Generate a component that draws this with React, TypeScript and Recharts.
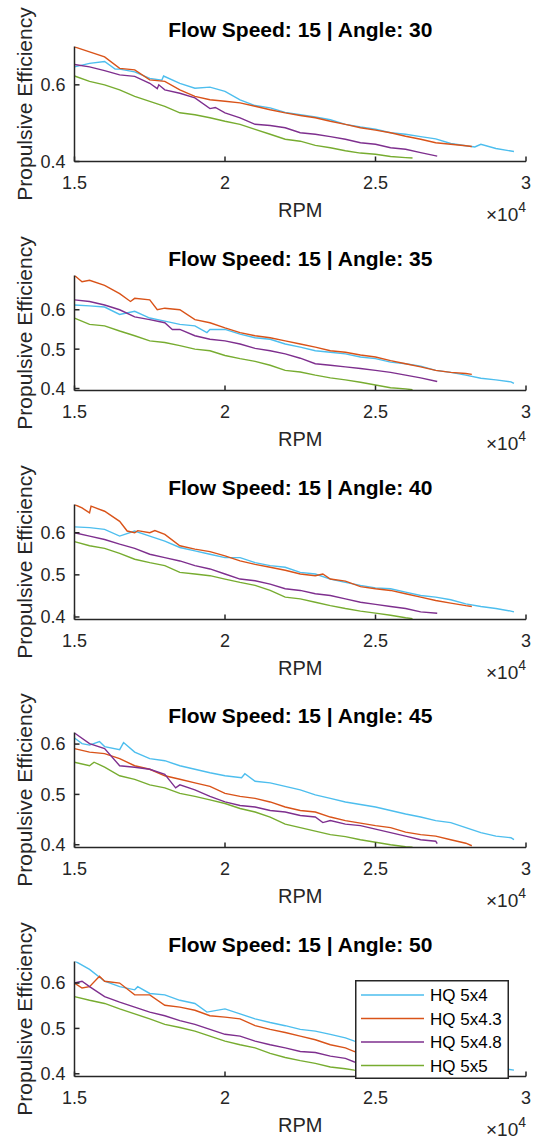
import React from 'react';
import { LineChart, Line, XAxis, YAxis, Legend } from 'recharts';

const FONT = '"Liberation Sans", Arial, Helvetica, sans-serif';
const AXIS_COLOR = '#262626';

// ---------- categories / ticks ----------
const angles = [30, 35, 40, 45, 50];
const seriesNames = ['HQ 5x4', 'HQ 5x4.3', 'HQ 5x4.8', 'HQ 5x5'];
const seriesColors = ['#4DBEEE', '#D95319', '#7E2F8E', '#77AC30'];
const xDomain = [15000, 30000];
const xTicks = [15000, 20000, 25000, 30000];
const yDomains = [
  [0.4, 0.7],
  [0.395, 0.687],
  [0.394, 0.667],
  [0.3945, 0.623],
  [0.394, 0.6475],
];
const yTicks = [
  [0.4, 0.6],
  [0.4, 0.5, 0.6],
  [0.4, 0.5, 0.6],
  [0.4, 0.5, 0.6],
  [0.4, 0.5, 0.6],
];

// ---------- series values: [RPM, propulsive efficiency] ----------
// Angle 30
const a30_5x4 = [[15000,0.647],[15500,0.656],[16000,0.661],[16350,0.641],[16500,0.641],[17000,0.634],[17500,0.617],[17900,0.612],[17960,0.623],[18500,0.604],[19000,0.591],[19500,0.594],[20000,0.583],[20500,0.561],[21000,0.546],[21500,0.540],[22000,0.528],[22500,0.522],[23000,0.516],[23500,0.509],[24000,0.497],[24500,0.490],[25000,0.484],[25500,0.475],[26000,0.471],[26500,0.465],[27000,0.459],[27500,0.447],[28000,0.441],[28300,0.438],[28500,0.445],[29000,0.434],[29600,0.426]];
const a30_5x43 = [[15000,0.699],[15500,0.686],[16000,0.673],[16500,0.643],[17000,0.639],[17500,0.613],[18000,0.609],[18500,0.587],[19000,0.570],[19500,0.561],[20000,0.557],[20500,0.553],[21000,0.544],[21500,0.535],[22000,0.527],[22500,0.520],[23000,0.514],[23500,0.505],[24000,0.497],[24500,0.488],[25000,0.482],[25500,0.475],[26000,0.466],[26500,0.458],[27000,0.449],[27500,0.445],[28000,0.441],[28200,0.439]];
const a30_5x48 = [[15000,0.653],[15500,0.647],[16000,0.637],[16500,0.626],[17000,0.622],[17500,0.604],[17750,0.590],[17800,0.600],[18000,0.587],[18500,0.578],[19000,0.566],[19500,0.538],[19680,0.541],[20000,0.527],[20500,0.514],[21000,0.497],[21500,0.494],[22000,0.488],[22500,0.475],[23000,0.471],[23500,0.465],[24000,0.458],[24500,0.449],[25000,0.445],[25500,0.436],[26000,0.432],[26500,0.423],[27050,0.414]];
const a30_5x5 = [[15000,0.623],[15500,0.609],[16000,0.600],[16500,0.587],[17000,0.570],[17500,0.557],[18000,0.544],[18500,0.527],[19000,0.522],[19500,0.514],[20000,0.505],[20500,0.497],[21000,0.484],[21500,0.471],[22000,0.458],[22500,0.453],[23000,0.442],[23500,0.436],[24000,0.428],[24500,0.422],[25000,0.419],[25500,0.413],[26000,0.410],[26230,0.409]];

// Angle 35
const a35_5x4 = [[15000,0.612],[15500,0.610],[16000,0.607],[16500,0.588],[17000,0.596],[17500,0.579],[18000,0.571],[18500,0.563],[19000,0.559],[19400,0.542],[19500,0.550],[20000,0.550],[20500,0.538],[21000,0.529],[21500,0.525],[22000,0.513],[22500,0.505],[23000,0.496],[23500,0.492],[24000,0.488],[24500,0.480],[25000,0.476],[25500,0.467],[26000,0.463],[26500,0.457],[27000,0.446],[27500,0.441],[28000,0.434],[28500,0.426],[29000,0.422],[29500,0.417],[29600,0.413]];
const a35_5x43 = [[15000,0.687],[15250,0.671],[15500,0.675],[16000,0.662],[16500,0.641],[16860,0.621],[17000,0.629],[17500,0.625],[17750,0.600],[18000,0.604],[18500,0.600],[19000,0.575],[19500,0.567],[20000,0.554],[20500,0.542],[21000,0.534],[21500,0.529],[22000,0.521],[22500,0.513],[23000,0.505],[23500,0.496],[24000,0.492],[24500,0.485],[25000,0.480],[25500,0.471],[26000,0.463],[26500,0.455],[27000,0.446],[27500,0.441],[28000,0.438],[28200,0.436]];
const a35_5x48 = [[15000,0.625],[15500,0.621],[16000,0.612],[16500,0.600],[17000,0.582],[17500,0.575],[18000,0.567],[18250,0.550],[18500,0.550],[19000,0.534],[19500,0.525],[20000,0.521],[20500,0.513],[21000,0.502],[21500,0.496],[22000,0.488],[22500,0.477],[23000,0.463],[23500,0.459],[24000,0.455],[24500,0.451],[25000,0.446],[25500,0.441],[26000,0.434],[26500,0.427],[27050,0.418]];
const a35_5x5 = [[15000,0.579],[15500,0.563],[16000,0.559],[16500,0.546],[17000,0.534],[17500,0.521],[18000,0.517],[18500,0.509],[19000,0.500],[19500,0.496],[20000,0.484],[20500,0.476],[21000,0.469],[21500,0.459],[22000,0.446],[22500,0.442],[23000,0.434],[23500,0.427],[24000,0.422],[24500,0.416],[25000,0.409],[25500,0.402],[26000,0.399],[26230,0.397]];

// Angle 40
const a40_5x4 = [[15000,0.614],[15500,0.612],[16000,0.608],[16500,0.592],[17000,0.604],[17500,0.592],[18000,0.580],[18500,0.565],[19000,0.557],[19500,0.549],[20000,0.541],[20500,0.541],[21000,0.529],[21500,0.522],[22000,0.518],[22500,0.506],[23000,0.502],[23500,0.490],[24000,0.482],[24500,0.475],[25000,0.469],[25500,0.467],[26000,0.459],[26500,0.451],[27000,0.447],[27500,0.441],[28000,0.431],[28500,0.425],[29000,0.420],[29500,0.414],[29600,0.412]];
const a40_5x43 = [[15000,0.667],[15250,0.659],[15500,0.647],[15550,0.663],[16000,0.651],[16500,0.627],[16750,0.604],[17000,0.600],[17100,0.605],[17500,0.600],[17670,0.605],[18000,0.596],[18500,0.569],[19000,0.561],[19500,0.555],[20000,0.545],[20500,0.533],[21000,0.525],[21500,0.518],[22000,0.511],[22500,0.502],[23000,0.498],[23250,0.502],[23500,0.490],[24000,0.485],[24500,0.472],[25000,0.467],[25500,0.463],[26000,0.455],[26500,0.447],[27000,0.439],[27500,0.433],[28000,0.427],[28200,0.425]];
const a40_5x48 = [[15000,0.600],[15500,0.592],[16000,0.584],[16500,0.573],[17000,0.563],[17500,0.549],[18000,0.541],[18500,0.533],[19000,0.522],[19500,0.514],[20000,0.502],[20500,0.490],[21000,0.486],[21500,0.478],[22000,0.467],[22500,0.463],[23000,0.455],[23500,0.451],[24000,0.443],[24500,0.435],[25000,0.430],[25500,0.425],[26000,0.420],[26500,0.412],[27050,0.409]];
const a40_5x5 = [[15000,0.579],[15500,0.569],[16000,0.563],[16500,0.551],[17000,0.537],[17500,0.529],[18000,0.522],[18500,0.506],[19000,0.502],[19500,0.498],[20000,0.490],[20500,0.482],[21000,0.475],[21500,0.463],[22000,0.447],[22500,0.443],[23000,0.435],[23500,0.427],[24000,0.420],[24500,0.414],[25000,0.409],[25500,0.404],[26000,0.398],[26230,0.396]];

// Angle 45
const a45_5x4 = [[15000,0.612],[15250,0.601],[15500,0.598],[15830,0.605],[16000,0.595],[16500,0.589],[16630,0.603],[17000,0.584],[17500,0.571],[18000,0.567],[18500,0.557],[19000,0.550],[19500,0.543],[20000,0.537],[20550,0.533],[20660,0.541],[21000,0.526],[21500,0.523],[22000,0.516],[22500,0.509],[23000,0.499],[23500,0.492],[24000,0.485],[24500,0.480],[25000,0.475],[25500,0.468],[26000,0.461],[26500,0.455],[27000,0.448],[27500,0.444],[28000,0.434],[28500,0.424],[29000,0.417],[29500,0.414],[29600,0.410]];
const a45_5x43 = [[15000,0.591],[15500,0.584],[16000,0.581],[16500,0.571],[17000,0.557],[17500,0.550],[18000,0.537],[18500,0.530],[19000,0.523],[19500,0.516],[20000,0.502],[20500,0.496],[21000,0.492],[21500,0.485],[22000,0.475],[22500,0.468],[23000,0.465],[23500,0.455],[24000,0.448],[24500,0.443],[25000,0.438],[25500,0.434],[26000,0.425],[26500,0.420],[27000,0.417],[27500,0.410],[28000,0.403],[28200,0.398]];
const a45_5x48 = [[15000,0.622],[15500,0.601],[16000,0.591],[16500,0.557],[17000,0.554],[17500,0.550],[18000,0.540],[18360,0.513],[18500,0.519],[19000,0.509],[19500,0.496],[20000,0.485],[20500,0.478],[21000,0.475],[21500,0.468],[22000,0.465],[22500,0.458],[23000,0.455],[23250,0.444],[23500,0.448],[24000,0.441],[24500,0.438],[25000,0.431],[25500,0.424],[26000,0.417],[26500,0.410],[27000,0.407],[27050,0.402]];
const a45_5x5 = [[15000,0.564],[15500,0.557],[15650,0.564],[16000,0.554],[16500,0.537],[17000,0.530],[17500,0.519],[18000,0.513],[18500,0.502],[19000,0.496],[19500,0.489],[20000,0.482],[20500,0.472],[21000,0.465],[21500,0.455],[22000,0.441],[22500,0.434],[23000,0.427],[23500,0.420],[24000,0.416],[24500,0.410],[25000,0.405],[25500,0.400],[26000,0.396],[26230,0.395]];

// Angle 50
const a50_5x4 = [[15000,0.649],[15500,0.630],[16000,0.604],[16500,0.592],[17000,0.585],[17100,0.592],[17500,0.577],[18000,0.574],[18500,0.562],[19000,0.555],[19400,0.536],[20000,0.543],[20500,0.532],[21000,0.521],[21500,0.513],[22000,0.506],[22500,0.498],[23000,0.494],[23500,0.487],[24000,0.479],[24300,0.472],[25000,0.465],[25500,0.458],[26000,0.452],[26500,0.445],[27000,0.438],[27500,0.432],[28000,0.425],[28500,0.420],[29000,0.414],[29600,0.408]];
const a50_5x43 = [[15000,0.600],[15250,0.589],[15500,0.592],[15830,0.615],[16000,0.604],[16500,0.600],[17000,0.574],[17500,0.574],[18000,0.551],[18500,0.547],[19000,0.540],[19500,0.528],[20000,0.525],[20500,0.521],[21000,0.506],[21500,0.498],[22000,0.491],[22500,0.483],[23000,0.475],[23500,0.464],[24000,0.457],[24300,0.449],[25000,0.443],[25500,0.437],[26000,0.431],[26500,0.426],[27000,0.420],[27500,0.415],[28200,0.409]];
const a50_5x48 = [[15000,0.600],[15250,0.604],[15500,0.592],[16000,0.570],[16500,0.558],[17000,0.547],[17500,0.536],[18000,0.528],[18500,0.517],[19000,0.509],[19500,0.498],[20000,0.487],[20500,0.483],[21000,0.472],[21500,0.464],[22000,0.457],[22500,0.449],[23000,0.447],[23500,0.439],[24000,0.434],[24300,0.426],[25000,0.423],[25500,0.418],[26000,0.414],[26500,0.410],[27050,0.406]];
const a50_5x5 = [[15000,0.570],[15500,0.562],[16000,0.555],[16500,0.543],[17000,0.532],[17500,0.521],[18000,0.509],[18500,0.502],[19000,0.494],[19500,0.483],[20000,0.472],[20500,0.464],[21000,0.457],[21500,0.445],[22000,0.436],[22500,0.429],[23000,0.423],[23500,0.415],[24000,0.411],[24300,0.408],[25000,0.404],[25500,0.400],[26000,0.397],[26230,0.396]];

const panelSeries = [
  [a30_5x4, a30_5x43, a30_5x48, a30_5x5],
  [a35_5x4, a35_5x43, a35_5x48, a35_5x5],
  [a40_5x4, a40_5x43, a40_5x48, a40_5x5],
  [a45_5x4, a45_5x43, a45_5x48, a45_5x5],
  [a50_5x4, a50_5x43, a50_5x48, a50_5x5],
];

// ---------- layout ----------
const PAGE_W = 541;
const PAGE_H = 1139;
const PLOT_LEFT = 74.5;
const PLOT_RIGHT = 526;
const PLOT_H = 115;
const LOCAL_TOP = 46.5;
const PITCH = 228.75;
const CHART_H = 224;
const Y_AXIS_W = 60;
const X_AXIS_H = 30;
const TICK_LEN = 5;
const AXIS_W = 1.5;
const LINE_W = 1.4;

const toPts = (arr: number[][]) => arr.map(([rpm, eff]) => ({ rpm, eff }));

function XTick(props: any) {
  const { x, y, payload } = props;
  const v = payload && payload.value;
  return (
    <g>
      <line x1={x} x2={x} y1={y} y2={y - TICK_LEN} stroke={AXIS_COLOR} strokeWidth={AXIS_W} />
      <text x={x} y={y + 14.3} dy="0.71em" textAnchor="middle" fontFamily={FONT} fontSize={18} fill={AXIS_COLOR}>
        {String(v / 10000)}
      </text>
    </g>
  );
}

function YTick(props: any) {
  const { x, y, payload } = props;
  const v = payload && payload.value;
  return (
    <g>
      <line x1={x} x2={x + TICK_LEN} y1={y} y2={y} stroke={AXIS_COLOR} strokeWidth={AXIS_W} />
      <text x={x - 9} y={y} dy="0.355em" textAnchor="end" fontFamily={FONT} fontSize={18} fill={AXIS_COLOR}>
        {Number(v).toFixed(1)}
      </text>
    </g>
  );
}

function XLabels(props: any) {
  const { plotTopPx, panelAngle } = props;
  const plotBottom = plotTopPx + PLOT_H;
  const cx = (PLOT_LEFT + PLOT_RIGHT) / 2;
  return (
    <g>
      <text x={cx} y={plotTopPx - 9.4} textAnchor="middle" fontFamily={FONT} fontSize={21} fontWeight="bold" fill="#000">
        {`Flow Speed: 15 | Angle: ${panelAngle}`}
      </text>
      <text x={cx} y={plotBottom + 55} textAnchor="middle" fontFamily={FONT} fontSize={20} fill={AXIS_COLOR}>
        RPM
      </text>
      <text x={PLOT_RIGHT} y={plotBottom + 59.3} textAnchor="end" fontFamily={FONT} fontSize={19} fill={AXIS_COLOR}>
        ×10<tspan dy={-8.5} fontSize={14}>4</tspan>
      </text>
    </g>
  );
}

function YLabel(props: any) {
  const { plotTopPx } = props;
  const cy = plotTopPx + PLOT_H / 2;
  const x = 31.7;
  return (
    <text x={x} y={cy} transform={`rotate(-90, ${x}, ${cy})`} textAnchor="middle" fontFamily={FONT} fontSize={21} fill={AXIS_COLOR}>
      Propulsive Efficiency
    </text>
  );
}

const LEG_W = 154;
const LEG_H = 99;

function LegendBox(props: any) {
  const payload = props && props.payload && props.payload.length ? props.payload : null;
  const items = seriesNames.map((n, i) => {
    const p = payload ? payload.find((e: any) => e.value === n) : null;
    return { name: n, color: p && p.color ? p.color : seriesColors[i] };
  });
  return (
    <svg width={LEG_W} height={LEG_H} style={{ display: 'block' }}>
      <rect x={0.75} y={0.75} width={LEG_W - 1.5} height={LEG_H - 1.5} fill="#fff" stroke={AXIS_COLOR} strokeWidth={AXIS_W} />
      {items.map((it, i) => {
        const cy = 15 + i * 23.5;
        return (
          <g key={it.name}>
            <line x1={6} x2={69} y1={cy} y2={cy} stroke={it.color} strokeWidth={LINE_W} />
            <text x={75} y={cy + 6.1} fontFamily={FONT} fontSize={17} fill="#000">
              {it.name}
            </text>
          </g>
        );
      })}
    </svg>
  );
}

function Panel({ k }: { k: number }) {
  const divTop = Math.round(k * PITCH);
  const plotTop = LOCAL_TOP;
  const plotBottom = plotTop + PLOT_H;
  const series = panelSeries[k];
  return (
    <div style={{ position: 'absolute', left: 0, top: divTop, width: PAGE_W, height: CHART_H }}>
      <LineChart
        width={PAGE_W}
        height={CHART_H}
        margin={{ top: plotTop, left: PLOT_LEFT - Y_AXIS_W, right: PAGE_W - PLOT_RIGHT, bottom: CHART_H - plotBottom - X_AXIS_H }}
      >
        <XAxis
          type="number"
          dataKey="rpm"
          domain={xDomain}
          ticks={xTicks}
          interval={0}
          allowDataOverflow
          height={X_AXIS_H}
          tickSize={0}
          tickMargin={0}
          tickLine={false}
          axisLine={{ stroke: AXIS_COLOR, strokeWidth: AXIS_W }}
          tick={<XTick />}
          label={<XLabels plotTopPx={plotTop} panelAngle={angles[k]} />}
        />
        <YAxis
          type="number"
          domain={yDomains[k]}
          ticks={yTicks[k]}
          interval={0}
          allowDataOverflow
          width={Y_AXIS_W}
          tickSize={0}
          tickMargin={0}
          tickLine={false}
          axisLine={{ stroke: AXIS_COLOR, strokeWidth: AXIS_W }}
          tick={<YTick />}
          label={<YLabel plotTopPx={plotTop} />}
        />
        {series.map((s, i) => (
          <Line
            key={seriesNames[i]}
            name={seriesNames[i]}
            data={toPts(s)}
            dataKey="eff"
            type="linear"
            stroke={seriesColors[i]}
            strokeWidth={LINE_W}
            dot={false}
            activeDot={false}
            isAnimationActive={false}
          />
        ))}
        {k === 4 && (
          <Legend
            layout="vertical"
            align="center"
            verticalAlign="middle"
            wrapperStyle={{ left: 355, top: 980 - divTop, width: LEG_W, height: LEG_H }}
            content={<LegendBox />}
          />
        )}
      </LineChart>
    </div>
  );
}

export default function App() {
  return (
    <div style={{ position: 'absolute', left: 0, top: 0, width: PAGE_W, height: PAGE_H, background: '#fff', overflow: 'hidden' }}>
      {angles.map((a, k) => (
        <Panel key={a} k={k} />
      ))}
    </div>
  );
}
